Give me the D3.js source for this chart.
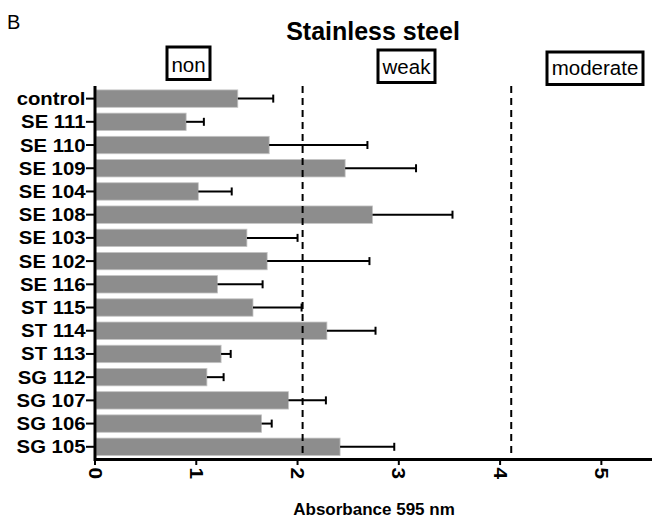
<!DOCTYPE html>
<html>
<head>
<meta charset="utf-8">
<script src="https://cdn.jsdelivr.net/npm/d3@7/dist/d3.min.js"></script>
<style>
  body { margin: 0; background: #fff; }
  svg { display: block; font-family: "Liberation Sans", Arial, sans-serif; }
</style>
</head>
<body>
<div id="chart"></div>
<script>
const categories = ["control", "SE 111", "SE 110", "SE 109", "SE 104", "SE 108", "SE 103", "SE 102",
  "SE 116", "ST 115", "ST 114", "ST 113", "SG 112", "SG 107", "SG 106", "SG 105"]
const means = [1.41, 0.90, 1.72, 2.47, 1.02, 2.74, 1.50, 1.70, 1.21, 1.56, 2.29, 1.245, 1.105, 1.91, 1.645, 2.42]
const errors = [0.35, 0.175, 0.97, 0.70, 0.33, 0.79, 0.50, 1.01, 0.445, 0.48, 0.48, 0.095, 0.165, 0.37, 0.10, 0.535]
const thresholds = [2.05, 4.11]
const xTicks = [0, 1, 2, 3, 4, 5]
const classes = ["non", "weak", "moderate"]

const width = 655, height = 520

const svg = d3.select("#chart").append("svg")
  .attr("width", width)
  .attr("height", height)

const x = d3.scaleLinear().domain([0, 5.5]).range([95, 652])
const y = d3.scaleBand().domain(categories).range([87, 458.4])
  .paddingInner(0.25).paddingOuter(0.125)

// panel letter and title
svg.append("text")
  .attr("x", 7).attr("y", 28.5)
  .attr("font-size", 20)
  .text("B")

svg.append("text")
  .attr("x", 373).attr("y", 39.5)
  .attr("text-anchor", "middle")
  .attr("font-size", 25).attr("font-weight", "bold")
  .text("Stainless steel")

// class boxes
const boxes = [
  { cx: 188.5, top: 47, w: 43, base: 71.7 },
  { cx: 406.5, top: 50, w: 57, base: 74.3 },
  { cx: 595, top: 52, w: 96, base: 75.3 }
]
classes.forEach((c, i) => {
  const b = boxes[i]
  svg.append("rect")
    .attr("x", b.cx - b.w / 2).attr("y", b.top)
    .attr("width", b.w).attr("height", 32.5)
    .attr("fill", "#fff").attr("stroke", "#000").attr("stroke-width", 3)
  svg.append("text")
    .attr("x", b.cx).attr("y", b.base)
    .attr("text-anchor", "middle")
    .attr("font-size", 20.5)
    .text(c)
})

// bars
svg.append("g")
  .selectAll("rect")
  .data(categories)
  .join("rect")
  .attr("x", x(0) + 1)
  .attr("y", d => y(d))
  .attr("width", (d, i) => x(means[i]) - x(0) - 1)
  .attr("height", y.bandwidth())
  .attr("fill", "#8d8d8d")
  .attr("stroke", "#c4c4c4")
  .attr("stroke-width", 0.8)

// error bars
const err = svg.append("g").attr("stroke", "#000").attr("stroke-width", 2)
categories.forEach((c, i) => {
  const cy = y(c) + y.bandwidth() / 2
  err.append("line")
    .attr("x1", x(means[i])).attr("x2", x(means[i] + errors[i]))
    .attr("y1", cy).attr("y2", cy)
  err.append("line")
    .attr("x1", x(means[i] + errors[i])).attr("x2", x(means[i] + errors[i]))
    .attr("y1", cy - 4).attr("y2", cy + 4)
})

// threshold lines
svg.append("g")
  .selectAll("line")
  .data(thresholds)
  .join("line")
  .attr("x1", d => x(d)).attr("x2", d => x(d))
  .attr("y1", 86).attr("y2", 459)
  .attr("stroke", "#000").attr("stroke-width", 2)
  .attr("stroke-dasharray", "7,5")

// y axis
const yAxis = svg.append("g")
yAxis.append("line")
  .attr("x1", 95).attr("x2", 95).attr("y1", 86).attr("y2", 461)
  .attr("stroke", "#000").attr("stroke-width", 3)
categories.forEach(c => {
  const cy = y(c) + y.bandwidth() / 2
  yAxis.append("line")
    .attr("x1", 86).attr("x2", 95).attr("y1", cy).attr("y2", cy)
    .attr("stroke", "#000").attr("stroke-width", 2)
  yAxis.append("g")
    .attr("transform", `translate(85.5,${cy}) scale(1.13,1)`)
    .append("text")
    .attr("text-anchor", "end")
    .attr("dy", "0.36em")
    .attr("font-size", 18).attr("font-weight", "bold")
    .text(c)
})

// x axis
const xAxis = svg.append("g")
xAxis.append("line")
  .attr("x1", 94).attr("x2", 652).attr("y1", 459.5).attr("y2", 459.5)
  .attr("stroke", "#000").attr("stroke-width", 3)
xTicks.forEach(t => {
  xAxis.append("line")
    .attr("x1", x(t)).attr("x2", x(t)).attr("y1", 459).attr("y2", 465)
    .attr("stroke", "#000").attr("stroke-width", 2)
  xAxis.append("g")
    .attr("transform", `translate(${x(t)},467.5) rotate(90) scale(1.15,1)`)
    .append("text")
    .attr("dy", "0.36em")
    .attr("font-size", 18).attr("font-weight", "bold")
    .text(t)
})

svg.append("text")
  .attr("x", 374).attr("y", 515)
  .attr("text-anchor", "middle")
  .attr("font-size", 17).attr("font-weight", "bold")
  .text("Absorbance 595 nm")
</script>
</body>
</html>
